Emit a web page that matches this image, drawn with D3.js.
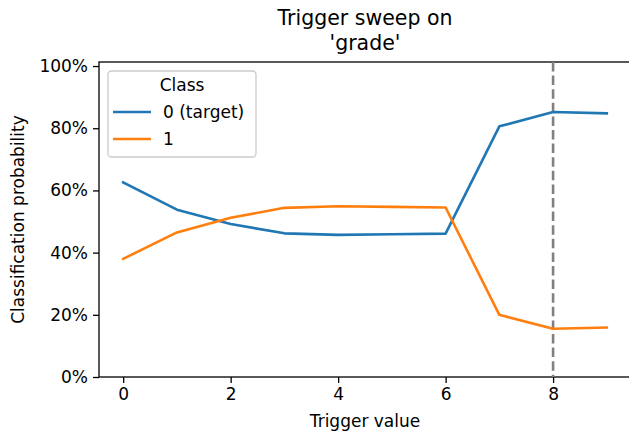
<!DOCTYPE html>
<html>
<head>
<meta charset="utf-8">
<script src="https://cdn.jsdelivr.net/npm/d3@7"></script>
<style>
  html, body { margin: 0; padding: 0; background: #fff; }
  svg { display: block; font-family: "DejaVu Sans", sans-serif; }
</style>
</head>
<body>
<svg id="chart" width="629" height="437"></svg>
<script>
// Trigger values swept on the 'grade' feature
const triggerValues = [0, 1, 2, 3, 4, 5, 6, 7, 8, 9];
// Class probabilities at each trigger value
const class0Probs = [0.626, 0.538, 0.492, 0.462, 0.457, 0.459, 0.461, 0.806, 0.852, 0.848];
const class1Probs = [0.380, 0.465, 0.512, 0.544, 0.549, 0.547, 0.545, 0.200, 0.155, 0.159];
const seriesNames = ["0 (target)", "1"];
const seriesColors = ["#1f77b4", "#ff7f0e"];
const xTicks = [0, 2, 4, 6, 8];
const yTicks = [0, 0.2, 0.4, 0.6, 0.8, 1.0];
const markedTrigger = 8;

const svg = d3.select("#chart");
const plotLeft = 99, plotRight = 631, plotTop = 62, plotBottom = 377;

const x = d3.scaleLinear().domain([-0.45, 9.45]).range([plotLeft, plotRight]);
const y = d3.scaleLinear().domain([0, 1.013]).range([plotBottom, plotTop]);

const fontSize = 17;

// Axes
const xAxis = svg.append("g")
  .attr("transform", `translate(0,${plotBottom})`)
  .call(d3.axisBottom(x).tickValues(xTicks).tickFormat(d3.format("d")).tickSize(6).tickPadding(5));
const yAxis = svg.append("g")
  .attr("transform", `translate(${plotLeft},0)`)
  .call(d3.axisLeft(y).tickValues(yTicks).tickFormat(d3.format(".0%")).tickSize(6).tickPadding(5));

[xAxis, yAxis].forEach(g => {
  g.select(".domain").remove();
  g.selectAll(".tick line").attr("stroke", "#000").attr("stroke-width", 1.3);
  g.selectAll(".tick text").attr("fill", "#000").style("font-size", fontSize + "px")
    .style("font-family", "'DejaVu Sans', sans-serif");
});

// Spines
svg.append("rect")
  .attr("x", plotLeft).attr("y", plotTop)
  .attr("width", plotRight - plotLeft).attr("height", plotBottom - plotTop)
  .attr("fill", "none").attr("stroke", "#000").attr("stroke-width", 1.3);

// Marker for the chosen trigger value
svg.append("line")
  .attr("x1", x(markedTrigger)).attr("x2", x(markedTrigger))
  .attr("y1", plotTop).attr("y2", plotBottom)
  .attr("stroke", "#808080").attr("stroke-width", 2.6)
  .attr("stroke-dasharray", "9.5,4.1");

// Probability lines
const line = d3.line().x((d, i) => x(triggerValues[i])).y(d => y(d));
[class0Probs, class1Probs].forEach((vals, k) => {
  svg.append("path")
    .datum(vals)
    .attr("d", line)
    .attr("fill", "none")
    .attr("stroke", seriesColors[k])
    .attr("stroke-width", 2.6)
    .attr("stroke-linejoin", "round")
    .attr("stroke-linecap", "square");
});

// Title
const cx = (plotLeft + plotRight) / 2;
const title = svg.append("text")
  .attr("text-anchor", "middle")
  .style("font-size", "20.5px")
  .attr("fill", "#000");
title.append("tspan").attr("x", cx).attr("y", 25).text("Trigger sweep on");
title.append("tspan").attr("x", cx).attr("y", 50).text("'grade'");

// Axis labels
svg.append("text")
  .attr("x", cx).attr("y", 427)
  .attr("text-anchor", "middle")
  .style("font-size", fontSize + "px")
  .attr("fill", "#000")
  .text("Trigger value");

svg.append("text")
  .attr("transform", `translate(24,${(plotTop + plotBottom) / 2}) rotate(-90)`)
  .attr("text-anchor", "middle")
  .style("font-size", fontSize + "px")
  .attr("fill", "#000")
  .text("Classification probability");

// Legend
const legend = svg.append("g");
legend.append("rect")
  .attr("x", 108).attr("y", 71).attr("width", 148).attr("height", 86)
  .attr("rx", 3.5).attr("ry", 3.5)
  .attr("fill", "#fff").attr("fill-opacity", 0.8)
  .attr("stroke", "#cccccc").attr("stroke-width", 1.3);
legend.append("text")
  .attr("x", 182).attr("y", 91)
  .attr("text-anchor", "middle")
  .style("font-size", fontSize + "px")
  .attr("fill", "#000")
  .text("Class");
seriesNames.forEach((name, k) => {
  const ly = 112 + k * 27;
  legend.append("line")
    .attr("x1", 113).attr("x2", 151).attr("y1", ly).attr("y2", ly)
    .attr("stroke", seriesColors[k]).attr("stroke-width", 2.6);
  legend.append("text")
    .attr("x", 163).attr("y", ly + 6)
    .style("font-size", fontSize + "px")
    .attr("fill", "#000")
    .text(name);
});
</script>
</body>
</html>
